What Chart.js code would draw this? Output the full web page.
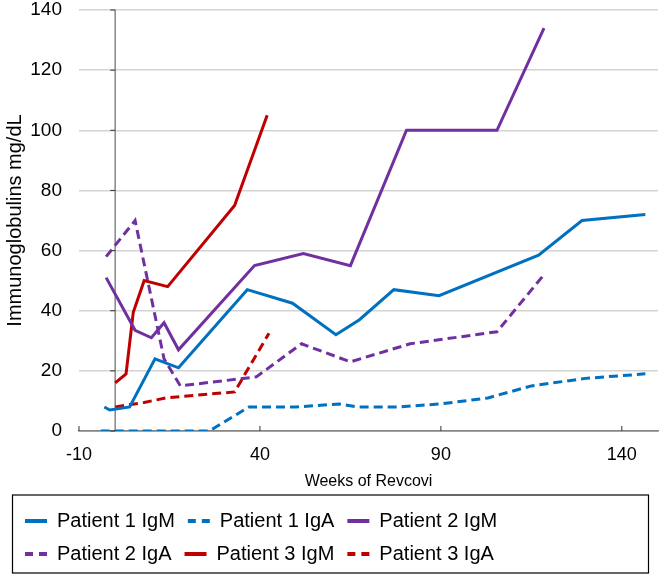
<!DOCTYPE html>
<html>
<head>
<meta charset="utf-8">
<script src="https://cdn.jsdelivr.net/npm/chart.js@4.4.1/dist/chart.umd.min.js"></script>
<style>
  html, body { margin: 0; padding: 0; background: #fff; }
  #wrap { width: 661px; height: 574px; }
</style>
</head>
<body>
<div id="wrap"><canvas id="chart"></canvas></div>
<script>
const xTicks = [-10, 40, 90, 140];
const yTicks = [0, 20, 40, 60, 80, 100, 120, 140];

// weeks and mg/dL
const p1IgmWeeks = [-3, -1.5, 4, 11, 17.5, 36.5, 49, 61, 67.5, 77, 89.5, 117, 129, 146.5];
const p1IgmValues = [8, 7, 8, 24, 21, 47, 42.5, 32, 37, 47, 45, 58.5, 70, 72];

const p1IgaWeeks = [-4, 26, 37, 50, 62, 67, 78, 90, 103, 115, 130, 146.5];
const p1IgaValues = [0, 0, 8, 8, 9, 8, 8, 9, 11, 15, 17.5, 19];

const p2IgmWeeks = [-2.5, 5.5, 10, 13.5, 17.5, 38.5, 52, 65, 80.5, 105.5, 118.5];
const p2IgmValues = [51, 33.5, 31, 36, 27, 55, 59, 55, 100, 100, 134];

const p2IgaWeeks = [-2.5, 5.5, 13.5, 18, 39, 51.5, 65, 81.5, 105.5, 118.5];
const p2IgaValues = [58, 70, 24, 15, 18, 29, 23, 29, 33, 52];

const p3IgmWeeks = [0, 3, 5, 8, 14.5, 33, 42];
const p3IgmValues = [16, 19, 39.5, 50, 48, 75, 105];

const p3IgaWeeks = [0, 8, 14, 33, 42.5];
const p3IgaValues = [8, 9.5, 11, 13, 32.5];

const blue = '#0070c0';
const purple = '#7030a0';
const red = '#c00000';
const dash = [9, 5];
const font = 'Liberation Sans, Arial, sans-serif';

const pts = (xs, ys) => xs.map((x, i) => ({ x: x, y: ys[i] }));

const series = (label, xs, ys, color, dashed) => ({
    label: label,
    data: pts(xs, ys),
    borderColor: color,
    backgroundColor: color,
    borderWidth: 3,
    borderDash: dashed ? dash : [],
    pointRadius: 0,
    tension: 0
});

// axis line at week 0, small tick marks, and the box round the legend
const extras = {
    id: 'extras',
    beforeDatasetsDraw(chart) {
        const { ctx, chartArea, scales } = chart;
        const x0 = scales.x.getPixelForValue(0);
        ctx.save();
        ctx.strokeStyle = '#868686';
        ctx.lineWidth = 1.5;
        ctx.beginPath();
        ctx.moveTo(x0, chartArea.top);
        ctx.lineTo(x0, chartArea.bottom);
        ctx.stroke();
        ctx.strokeStyle = '#333';
        ctx.lineWidth = 1;
        ctx.beginPath();
        yTicks.forEach(v => {
            const py = scales.y.getPixelForValue(v);
            ctx.moveTo(x0 - 5, py);
            ctx.lineTo(x0, py);
        });
        xTicks.forEach(v => {
            const px = scales.x.getPixelForValue(v);
            ctx.moveTo(px, chartArea.bottom);
            ctx.lineTo(px, chartArea.bottom - 5);
        });
        ctx.stroke();
        ctx.restore();
    },
    afterDraw(chart) {
        const lg = chart.legend;
        const ctx = chart.ctx;
        ctx.save();
        ctx.strokeStyle = '#000';
        ctx.lineWidth = 1.2;
        ctx.strokeRect(lg.left + 0.5, lg.top - 3, lg.right - lg.left - 10, lg.height + 2);
        ctx.restore();
    }
};

const chart = document.querySelector('#chart').getContext('2d');

new Chart(chart, {
    type: 'line',
    data: {
        datasets: [
            series('Patient 1 IgM', p1IgmWeeks, p1IgmValues, blue, false),
            series('Patient 1 IgA', p1IgaWeeks, p1IgaValues, blue, true),
            series('Patient 2 IgM', p2IgmWeeks, p2IgmValues, purple, false),
            series('Patient 2 IgA', p2IgaWeeks, p2IgaValues, purple, true),
            series('Patient 3 IgM', p3IgmWeeks, p3IgmValues, red, false),
            series('Patient 3 IgA', p3IgaWeeks, p3IgaValues, red, true)
        ]
    },
    options: {
        responsive: true,
        maintainAspectRatio: false,
        animation: false,
        layout: { padding: { left: 12, right: 3, top: 0, bottom: 0 } },
        scales: {
            x: {
                type: 'linear',
                min: -10,
                max: 150,
                afterBuildTicks: scale => { scale.ticks = xTicks.map(v => ({ value: v })); },
                afterFit: scale => { scale.height = 67; },
                grid: { display: false, drawTicks: false },
                border: { display: true, color: '#868686', width: 1.5 },
                ticks: { padding: 13, color: '#000', font: { family: font, size: 18 } },
                title: {
                    display: true,
                    text: 'Weeks of Revcovi',
                    color: '#000',
                    font: { family: font, size: 16 },
                    padding: { top: 0, bottom: 7 }
                }
            },
            y: {
                min: 0,
                max: 140,
                afterFit: scale => {
                    scale.width = 67;
                    scale.paddingTop = 10;
                    scale.paddingBottom = 10;
                },
                grid: {
                    drawTicks: false,
                    color: ctx => ctx.tick && ctx.tick.value === 0 ? '#868686' : '#d4d4d4',
                    lineWidth: 1.5
                },
                border: { display: false },
                ticks: { stepSize: 20, padding: 17, color: '#000', font: { family: font, size: 19 } },
                title: {
                    display: true,
                    text: 'Immunoglobulins mg/dL',
                    color: '#000',
                    font: { family: font, size: 20 },
                    padding: { top: -9, bottom: 0 }
                }
            }
        },
        plugins: {
            legend: {
                position: 'bottom',
                align: 'start',
                labels: {
                    usePointStyle: true,
                    pointStyle: 'line',
                    pointStyleWidth: 22,
                    padding: 13,
                    color: '#000',
                    font: { family: font, size: 20 },
                    generateLabels: c => Chart.defaults.plugins.legend.labels.generateLabels(c).map(item => {
                        const ds = c.data.datasets[item.datasetIndex];
                        item.lineDash = ds.borderDash.length ? [8, 6] : [];
                        item.lineWidth = 4;
                        return item;
                    })
                }
            },
            tooltip: { enabled: false }
        }
    },
    plugins: [extras]
});
</script>
</body>
</html>
